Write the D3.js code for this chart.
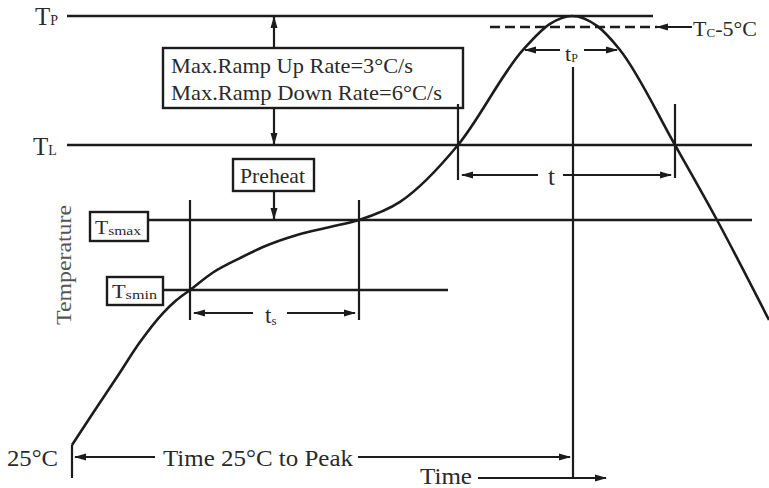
<!DOCTYPE html>
<html>
<head>
<meta charset="utf-8">
<script src="https://cdn.jsdelivr.net/npm/d3@7"></script>
<style>
  body { margin: 0; background: #fff; }
  svg { display: block; }
</style>
</head>
<body>
<svg id="chart" width="769" height="488"></svg>
<script>
// ---- Reflow profile data (schematic) ----
// Temperature levels, °C
const levelKeys  = ["Tp", "Tc5", "TL", "Tsmax", "Tsmin", "T25"];
const levelTemps = [260, 255, 217, 200, 150, 25];

// Profile curve: time (s) vs temperature (°C)
const profileTime = [0, 10.5, 22.5, 34, 45.5, 52, 59, 70.5, 84, 95.5, 112.5, 129, 143.5, 164, 193, 225.5, 239, 250, 262.5, 274, 301.5, 322.5, 348.5];
const profileTemp = [25, 50.8, 79.8, 108, 131.4, 141.5, 150, 162.5, 172.8, 180.7, 189.3, 195, 200, 204.1, 217, 247.6, 256.4, 260, 255.5, 247.6, 217, 200, 125.8];

// Time markers, s
const tsWindow  = [59, 143.5];    // preheat (Tsmin -> Tsmax)
const tlWindow  = [193, 301.5];   // time above TL
const tpWindow  = [225.5, 274];   // time within Tc-5°C
const tpLevel   = 247.6;          // height of the tp dimension line
const peakTime  = 250;

// Text
const rampLines = ["Max.Ramp Up Rate=3°C/s", "Max.Ramp Down Rate=6°C/s"];

const L = {};
levelKeys.forEach((k, i) => L[k] = levelTemps[i]);

// ---- Scales ----
// schematic (piecewise) temperature axis, linear time axis
const y = d3.scaleLinear()
  .domain([L.T25, L.Tsmin, L.Tsmax, L.TL, L.Tc5, L.Tp])
  .range([445, 290, 220, 145, 27, 16]);
const x = d3.scaleLinear().domain([0, peakTime]).range([72, 572]);

const FONT = "'Liberation Serif', 'Times New Roman', Times, serif";
const svg = d3.select("#chart").attr("font-family", FONT);
const ink = "#1c1c1c";

// arrowhead marker
svg.append("defs").append("marker")
  .attr("id", "ah").attr("viewBox", "0 0 12 8")
  .attr("refX", 11).attr("refY", 4)
  .attr("markerWidth", 12).attr("markerHeight", 8)
  .attr("markerUnits", "userSpaceOnUse")
  .attr("orient", "auto-start-reverse")
  .append("path").attr("d", "M0,0.5 L12,4 L0,7.5 Z").attr("fill", ink);

function seg(x1, y1, x2, y2, opts = {}) {
  const l = svg.append("line")
    .attr("x1", x1).attr("y1", y1).attr("x2", x2).attr("y2", y2)
    .attr("stroke", ink).attr("stroke-width", opts.w || 2.2);
  if (opts.dash) l.attr("stroke-dasharray", opts.dash);
  if (opts.start) l.attr("marker-start", "url(#ah)");
  if (opts.end) l.attr("marker-end", "url(#ah)");
  return l;
}
function box(x0, y0, w, h) {
  svg.append("rect").attr("x", x0).attr("y", y0).attr("width", w).attr("height", h)
    .attr("fill", "#fff").attr("stroke", ink).attr("stroke-width", 2.4);
}
function label(x0, y0, parts, opts = {}) {
  const t = svg.append("text").attr("x", x0).attr("y", y0)
    .attr("font-family", FONT).attr("fill", opts.fill || "#2a2a2a");
  parts.forEach(([s, size, dy]) => {
    t.append("tspan").attr("font-size", size).attr("dy", dy || 0).text(s);
  });
  if (opts.len) t.attr("textLength", opts.len).attr("lengthAdjust", "spacingAndGlyphs");
  return t;
}

// ---- Level lines ----
seg(67, y(L.Tp), 653, y(L.Tp), { w: 2.6 });
seg(490, y(L.Tc5), 657, y(L.Tc5), { w: 2.4, dash: "10,5" });
seg(692, y(L.Tc5), 657, y(L.Tc5), { w: 2.2, end: true });
seg(67, y(L.TL), 752, y(L.TL), { w: 2.6 });
seg(148, y(L.Tsmax), 752, y(L.Tsmax), { w: 2.6 });
seg(163, y(L.Tsmin), 448, y(L.Tsmin), { w: 2.6 });

// ---- Profile curve ----
const pts = profileTime.map((t, i) => [x(t), y(profileTemp[i])]);
svg.append("path")
  .attr("d", d3.line().curve(d3.curveMonotoneX)(pts))
  .attr("fill", "none").attr("stroke", ink).attr("stroke-width", 2.6);

// ---- Ramp rate box with arrows to Tp and TL ----
seg(274, 48, 274, y(L.Tp) + 1, { end: true });
seg(274, 108, 274, y(L.TL) - 1, { end: true });
box(163, 48, 300, 60);
label(171, 73, [[rampLines[0], 21]], { len: 242 });
label(171, 100, [[rampLines[1], 21]], { len: 271 });

// ---- Preheat ----
seg(274, 191, 274, y(L.Tsmax) - 1, { end: true });
box(233, 159, 81, 32);
label(240, 183, [["Preheat", 21]], { len: 65 });

// ---- ts window ----
tsWindow.forEach(t => seg(x(t), 200, x(t), 320));
seg(x(tsWindow[0]) + 4, 313, 253, 313, { start: true });
seg(287, 313, x(tsWindow[1]) - 4, 313, { end: true });
label(265, 323, [["t", 23], ["s", 13, 2]]);

// ---- time above TL ----
seg(x(tlWindow[0]), 104, x(tlWindow[0]), 180);
seg(x(tlWindow[1]), 104, x(tlWindow[1]), 178);
seg(x(tlWindow[0]) + 4, 175, 538, 175, { start: true });
seg(563, 175, x(tlWindow[1]) - 4, 175, { end: true });
label(548, 185, [["t", 25]]);

// ---- tp window and peak marker ----
seg(x(tpWindow[0]) + 2, y(tpLevel), 560, y(tpLevel), { start: true });
seg(584, y(tpLevel), x(tpWindow[1]) - 3, y(tpLevel), { end: true });
label(565, 61, [["t", 22], ["P", 12, 1]]);
seg(x(peakTime) + 1, 67, x(peakTime) + 1, 478);

// ---- 25°C start and time axis ----
seg(x(0), y(L.T25), x(0), 478);
seg(x(0) + 3, 457, 155, 457, { start: true });
seg(358, 457, x(peakTime) - 2, 457, { end: true });
seg(478, 478, 606, 478, { end: true });

// ---- Level labels ----
label(35, 25, [["T", 25], ["P", 14, 0]]);
label(33, 155, [["T", 25], ["L", 14, 0]]);
label(693, 36, [["T", 22], ["C", 13, 1], ["-5°C", 22, -1]]);

// small boxed labels for Tsmax / Tsmin
box(90, 212, 58, 29);
label(95, 234, [["T", 18], ["smax", 13, 1]], { len: 46 });
box(107, 277, 56, 28);
label(112, 298, [["T", 18], ["smin", 13, 1]], { len: 45 });

// axis titles
label(7, 466, [["25°C", 24]], { len: 51 });
label(163, 466, [["Time 25°C to Peak", 24]], { len: 190 });
label(420, 484, [["Time", 23]], { len: 52 });
svg.append("text")
  .attr("transform", "translate(71,265) rotate(-90)")
  .attr("text-anchor", "middle")
  .attr("font-family", FONT)
  .attr("font-size", 20)
  .attr("textLength", 120).attr("lengthAdjust", "spacingAndGlyphs")
  .attr("fill", "#555")
  .text("Temperature");
</script>
</body>
</html>
